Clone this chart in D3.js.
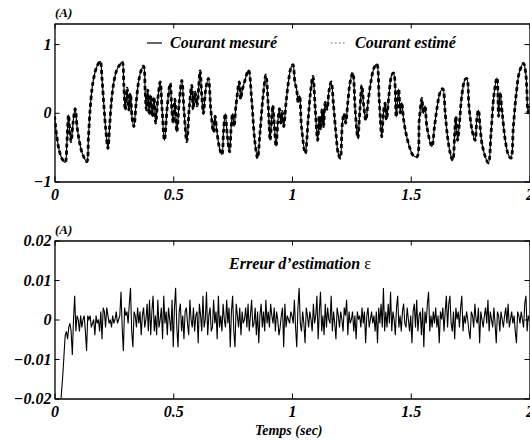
<!DOCTYPE html>
<html>
<head>
<meta charset="utf-8">
<script src="https://cdn.jsdelivr.net/npm/d3@7"></script>
<style>
    body { margin: 0; background: #fff; }
    svg text {
        font-family: "Liberation Serif", "Times New Roman", serif;
        font-weight: bold;
        font-style: italic;
        fill: #000;
    }
</style>
</head>
<body>
<svg id="chart" width="530" height="442"></svg>
<script>
"use strict";

// Time axis (seconds), shared by both panels.
const timeTicks = [0, 0.5, 1, 1.5, 2];
const timeTickLabels = ["0", "0.5", "1", "1.5", "2"];

const currentTicks = [-1, 0, 1];
const currentTickLabels = ["\u22121", "0", "1"];
const currentMeasured = [
    [0.000, -0.05], [0.008, -0.30], [0.020, -0.55], [0.032, -0.67], [0.045, -0.72],
    [0.052, -0.45], [0.059, -0.03], [0.065, -0.30], [0.070, -0.42], [0.078, -0.15],
    [0.087, 0.06], [0.095, -0.20], [0.105, -0.42], [0.118, -0.60], [0.136, -0.71],
    [0.143, -0.35], [0.150, 0.05], [0.158, 0.35], [0.166, 0.52], [0.178, 0.67],
    [0.192, 0.75], [0.200, 0.50], [0.208, 0.10], [0.216, -0.25], [0.225, -0.52],
    [0.232, -0.20], [0.240, 0.18], [0.250, 0.45], [0.262, 0.62], [0.275, 0.70],
    [0.285, 0.74], [0.292, 0.40], [0.298, 0.04], [0.306, 0.36], [0.313, 0.04],
    [0.320, 0.28], [0.326, -0.05], [0.334, -0.20], [0.344, 0.15], [0.354, 0.45],
    [0.365, 0.62], [0.375, 0.68], [0.382, 0.30], [0.387, 0.04], [0.393, 0.33],
    [0.399, -0.03], [0.405, 0.26], [0.412, -0.06], [0.419, 0.23], [0.426, -0.15],
    [0.435, 0.20], [0.445, 0.45], [0.453, 0.05], [0.463, -0.40], [0.475, 0.10],
    [0.487, 0.43], [0.494, 0.05], [0.500, -0.15], [0.507, 0.20], [0.515, -0.28],
    [0.525, 0.15], [0.536, 0.47], [0.546, 0.00], [0.557, -0.42], [0.568, 0.10],
    [0.578, 0.40], [0.584, 0.05], [0.592, 0.30], [0.600, 0.10], [0.613, 0.61],
    [0.620, 0.25], [0.627, -0.01], [0.637, 0.35], [0.648, 0.50], [0.658, 0.05],
    [0.669, -0.28], [0.676, -0.05], [0.683, -0.25], [0.694, -0.50], [0.705, -0.61],
    [0.712, -0.25], [0.719, -0.01], [0.728, -0.35], [0.737, -0.57], [0.744, -0.20],
    [0.750, -0.01], [0.756, -0.20], [0.764, 0.10], [0.778, 0.45], [0.784, 0.20],
    [0.790, 0.32], [0.800, 0.45], [0.817, 0.62], [0.830, 0.20], [0.843, -0.40],
    [0.855, -0.66], [0.865, -0.30], [0.877, 0.20], [0.890, 0.55], [0.900, 0.10],
    [0.908, -0.40], [0.914, -0.10], [0.919, 0.11], [0.926, -0.20], [0.933, -0.49],
    [0.940, -0.15], [0.947, 0.06], [0.953, -0.15], [0.958, 0.02], [0.965, -0.20],
    [0.975, 0.15], [0.985, 0.45], [0.995, 0.65], [1.004, 0.70], [1.012, 0.45],
    [1.020, 0.33], [1.026, 0.15], [1.032, 0.25], [1.040, -0.20], [1.056, -0.59],
    [1.068, -0.10], [1.078, 0.30], [1.088, 0.53], [1.098, 0.05], [1.108, -0.40],
    [1.115, -0.05], [1.120, -0.25], [1.127, 0.05], [1.133, -0.20], [1.140, 0.15],
    [1.148, 0.05], [1.155, 0.30], [1.165, 0.45], [1.175, 0.10], [1.185, -0.30],
    [1.195, -0.60], [1.203, -0.66], [1.212, -0.15], [1.219, -0.01], [1.226, -0.15],
    [1.235, 0.15], [1.245, 0.45], [1.256, 0.58], [1.266, 0.05], [1.277, -0.37],
    [1.286, 0.05], [1.294, 0.40], [1.302, 0.10], [1.311, -0.11], [1.320, 0.15],
    [1.332, 0.45], [1.345, 0.65], [1.357, 0.71], [1.367, 0.20], [1.378, -0.35],
    [1.385, 0.00], [1.392, 0.14], [1.398, -0.10], [1.408, 0.25], [1.420, 0.55],
    [1.428, 0.58], [1.439, -0.06], [1.449, 0.35], [1.456, 0.00], [1.462, 0.15],
    [1.470, -0.10], [1.480, -0.30], [1.495, -0.50], [1.510, -0.62], [1.526, -0.64],
    [1.536, -0.10], [1.547, 0.21], [1.553, -0.01], [1.560, 0.10], [1.568, -0.20],
    [1.589, -0.49], [1.600, -0.20], [1.612, 0.10], [1.624, 0.30], [1.635, 0.35],
    [1.645, 0.00], [1.655, -0.35], [1.667, -0.60], [1.677, -0.69], [1.685, -0.30],
    [1.690, -0.05], [1.697, -0.40], [1.705, -0.15], [1.715, 0.25], [1.728, 0.48],
    [1.736, 0.50], [1.745, 0.10], [1.758, -0.25], [1.771, -0.40], [1.778, -0.10],
    [1.785, 0.04], [1.792, -0.20], [1.800, -0.45], [1.815, -0.65], [1.827, -0.73],
    [1.838, -0.30], [1.850, 0.25], [1.863, 0.51], [1.870, -0.05], [1.876, 0.30],
    [1.885, 0.00], [1.898, -0.40], [1.910, -0.60], [1.922, -0.66], [1.932, -0.20],
    [1.945, 0.30], [1.958, 0.60], [1.975, 0.72], [1.985, 0.55], [1.994, 0.00],
    [2.000, 0.10]
];
// The estimate lies on top of the measurement everywhere at this scale.
const currentEstimated = currentMeasured.map(function (p) { return [p[0], p[1]]; });

// Bottom panel: estimation error, in units of 1e-3 A, one value every ERROR_STEP s from t = 0.
const errorTicks = [-0.02, -0.01, 0, 0.01, 0.02];
const errorTickLabels = ["\u22120.02", "\u22120.01", "0", "0.01", "0.02"];
const ERROR_STEP = 0.005;
const errorValues = [
    -45, -40, -35, -30, -26, -22, -18, -14, -9, -4, -3, -5, -2, -1, -3, -9, 0, 6, -3, 1,
    0, -3, 1, -2, 0, 1, -3, -8, 1, 0, 1, -2, -1, 0, -4, 1, -1, 0, -3, 2,
    -5, 3, 2, -2, 3, 1, -1, 0, -2, 1, -1, 0, 2, -1, 0, 1, 7, -2, -8, 3,
    1, 2, -1, 4, 8, -3, -7, 2, 1, -2, 3, -1, 2, -4, 1, 3, -2, 0, 4, -3,
    5, -4, 2, 6, -3, 1, -4, 5, -2, 0, 3, -5, 6, -1, 2, -4, 3, 0, -3, 5,
    -7, 3, 8, -2, -7, 2, 4, -3, 1, -5, 2, 3, -1, -4, 5, 0, -2, 3, -3, 1,
    2, -6, 4, 1, -3, 6, -2, 0, 7, -4, 1, 3, -3, -2, 5, -1, 2, -5, 6, -2,
    1, -3, 4, 0, -2, 5, -1, 3, -7, 2, 6, -3, -7, 4, 1, -2, 3, -4, 2, -1,
    0, 3, -2, 4, -3, 1, 5, -2, -1, 3, -4, 2, -6, 1, 4, -2, 2, -3, 5, -1,
    2, -2, 4, 1, -1, 3, -3, 2, 0, -4, -2, 1, 3, -7, 4, -2, 1, 0, -1, 2,
    1, -1, 5, -2, -7, 3, 8, -1, -3, 2, -1, -6, 3, 1, -2, 2, 0, -3, 4, -1,
    1, 6, -5, 2, 7, -3, 1, -4, 4, -2, 3, 0, -1, 6, -3, 2, -1, -5, 3, 1,
    -2, 2, 0, -3, 3, 1, 5, -4, 2, -1, 0, 2, -3, 1, -5, 2, 0, 1, -2, 3,
    -1, 2, -6, 1, 3, -2, 0, 2, -1, 1, -3, 2, -6, 3, -1, 4, -2, 8, -3, 2,
    -2, 4, -1, 7, -3, 2, 0, -4, 3, 6, -2, 1, -3, 2, 4, -1, -2, 3, 0, -3,
    1, -6, 2, 4, -2, 5, -3, 1, 2, -4, 3, -7, 2, -1, 4, 7, -3, 1, -2, 2,
    -1, 3, -2, 1, -6, 2, 0, 3, -3, 2, 6, -2, 4, 6, -1, -3, 2, -5, 3, 0,
    2, -2, 3, 6, -3, 1, -1, 2, 0, -3, -5, 2, 1, -2, 4, 0, -1, 3, -6, 2,
    0, -2, 1, 3, -1, 5, -3, 2, 0, -2, 3, -1, -6, 2, 1, -3, 2, 0, -2, 1,
    3, -1, 4, -2, 0, 2, -1, 1, -3, -6, 2, 1, -1, 2, 0, -2, 4, 6, -3, 1,
    0
];

const PLOT_LEFT = 54.5;
const PLOT_RIGHT = 529.5;
const TICK_LENGTH = 5;
const LABEL_FONT = 16;

const svg = d3.select("#chart");

const x = d3.scaleLinear().domain([0, 2]).range([PLOT_LEFT, PLOT_RIGHT]);

/**
 * Draws the boxed axes of one panel, MATLAB style: ticks pointing inwards on all four sides.
 */
function drawFrame(id, y, top, bottom, yTicks, yTickLabels) {
    let frame = svg.append("g").attr("class", "frame " + id);

    frame.append("g")
        .attr("transform", "translate(0," + bottom + ")")
        .call(d3.axisBottom(x).tickValues(timeTicks)
            .tickFormat(function (d, i) { return timeTickLabels[i]; })
            .tickSize(-TICK_LENGTH).tickSizeOuter(0).tickPadding(7));
    frame.append("g")
        .attr("transform", "translate(0," + top + ")")
        .call(d3.axisTop(x).tickValues(timeTicks).tickFormat("")
            .tickSize(-TICK_LENGTH).tickSizeOuter(0));
    frame.append("g")
        .attr("transform", "translate(" + PLOT_LEFT + ",0)")
        .call(d3.axisLeft(y).tickValues(yTicks)
            .tickFormat(function (d, i) { return yTickLabels[i]; })
            .tickSize(-TICK_LENGTH).tickSizeOuter(0).tickPadding(3));
    frame.append("g")
        .attr("transform", "translate(" + PLOT_RIGHT + ",0)")
        .call(d3.axisRight(y).tickValues(yTicks).tickFormat("")
            .tickSize(-TICK_LENGTH).tickSizeOuter(0));

    frame.selectAll("path.domain").attr("stroke", "#000").attr("stroke-width", 1.3);
    frame.selectAll(".tick line").attr("stroke", "#000").attr("stroke-width", 1);
    frame.selectAll(".tick text")
        .attr("font-family", null)
        .attr("font-size", null)
        .style("font-size", LABEL_FONT + "px");

    // Clip for the data lines.
    svg.append("clipPath")
        .attr("id", "clip-" + id)
        .append("rect")
        .attr("x", PLOT_LEFT)
        .attr("y", top)
        .attr("width", PLOT_RIGHT - PLOT_LEFT)
        .attr("height", bottom - top);

    // Unit label above the box.
    svg.append("text")
        .attr("x", 55)
        .attr("y", top - 7)
        .style("font-size", "13px")
        .text("(A)");
}

// ---- Top panel: current ----
const CUR_TOP = 23.5;
const CUR_BOTTOM = 181.5;
const yCurrent = d3.scaleLinear().domain([-1, 1.3]).range([CUR_BOTTOM, CUR_TOP]);

let currentLine = d3.line()
    .x(function (d) { return x(d[0]); })
    .y(function (d) { return yCurrent(d[1]); })
    .curve(d3.curveCatmullRom.alpha(0.5));

let currentGroup = svg.append("g").attr("clip-path", "url(#clip-current)");
currentGroup.append("path")
    .datum(currentMeasured)
    .attr("fill", "none")
    .attr("stroke", "#000")
    .attr("stroke-width", 1.2)
    .attr("d", currentLine);
currentGroup.append("path")
    .datum(currentEstimated)
    .attr("fill", "none")
    .attr("stroke", "#000")
    .attr("stroke-width", 2.8)
    .attr("stroke-dasharray", "4,3")
    .attr("d", currentLine);

drawFrame("current", yCurrent, CUR_TOP, CUR_BOTTOM, currentTicks, currentTickLabels);

// Legend.
svg.append("line")
    .attr("x1", 147).attr("x2", 162).attr("y1", 43).attr("y2", 43)
    .attr("stroke", "#000").attr("stroke-width", 1.2);
svg.append("text")
    .attr("x", 170).attr("y", 48)
    .style("font-size", LABEL_FONT + "px")
    .text("Courant mesuré");
svg.append("line")
    .attr("x1", 331).attr("x2", 347).attr("y1", 43).attr("y2", 43)
    .attr("stroke", "#666").attr("stroke-width", 1)
    .attr("stroke-dasharray", "1.5,2.5");
svg.append("text")
    .attr("x", 355).attr("y", 48)
    .style("font-size", LABEL_FONT + "px")
    .text("Courant estimé");

// ---- Bottom panel: estimation error ----
const ERR_TOP = 240.5;
const ERR_BOTTOM = 398.5;
const yError = d3.scaleLinear().domain([-0.02, 0.02]).range([ERR_BOTTOM, ERR_TOP]);

let errorLine = d3.line()
    .x(function (d, i) { return x(i * ERROR_STEP); })
    .y(function (d) { return yError(d * 0.001); });

svg.append("g")
    .attr("clip-path", "url(#clip-error)")
    .append("path")
    .datum(errorValues)
    .attr("fill", "none")
    .attr("stroke", "#000")
    .attr("stroke-width", 1.1)
    .attr("d", errorLine);

drawFrame("error", yError, ERR_TOP, ERR_BOTTOM, errorTicks, errorTickLabels);

let errorTitle = svg.append("text")
    .attr("x", 229).attr("y", 269)
    .style("font-size", LABEL_FONT + "px");
errorTitle.append("tspan").text("Erreur d\u2019estimation ");
errorTitle.append("tspan")
    .style("font-style", "normal")
    .style("font-weight", "normal")
    .text("\u03b5");

svg.append("text")
    .attr("x", 255).attr("y", 435)
    .style("font-size", "14px")
    .text("Temps (sec)");
</script>
</body>
</html>
